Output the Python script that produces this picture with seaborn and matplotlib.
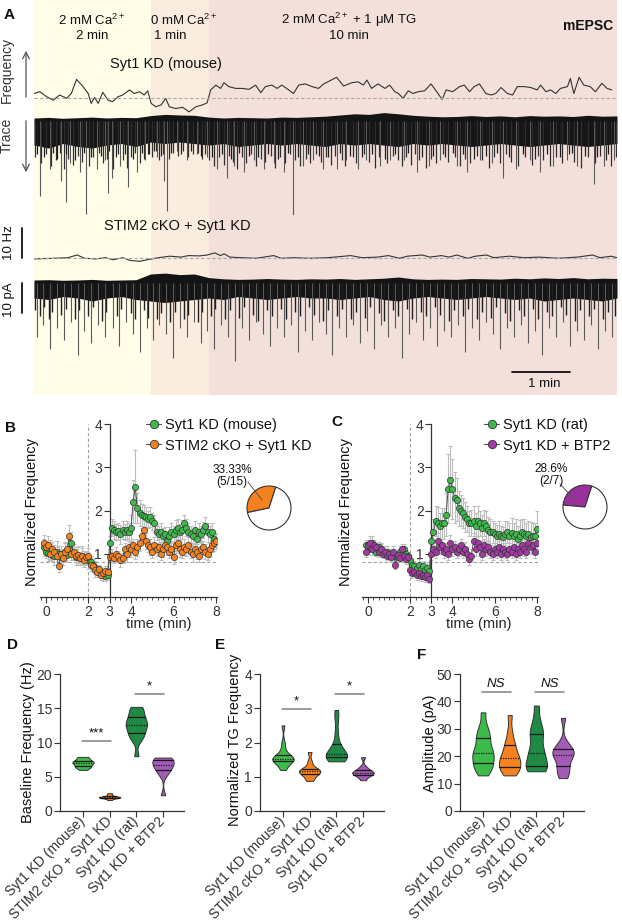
import numpy as np
import pandas as pd
import matplotlib
matplotlib.use("Agg")
import matplotlib.pyplot as plt
import matplotlib.transforms as mtransforms
import seaborn as sns
from matplotlib.lines import Line2D
from matplotlib.ticker import MultipleLocator

# ---------------- data ----------------
# panel A: smoothed event frequency (min, Hz)
freq1_t = [0.0, 0.10, 0.22, 0.33, 0.44, 0.56, 0.64, 0.73, 0.84, 0.93,
           0.98, 1.04, 1.10, 1.18, 1.27, 1.35, 1.44, 1.52, 1.64, 1.72,
           1.81, 1.89, 1.95, 2.01, 2.09, 2.18, 2.26, 2.32, 2.43, 2.55,
           2.66, 2.78, 2.89, 2.97, 3.03, 3.12, 3.20, 3.26, 3.34, 3.46,
           3.57, 3.69, 3.80, 3.89, 3.97, 4.08, 4.17, 4.25, 4.37, 4.45,
           4.54, 4.65, 4.77, 4.88, 4.97,
           5.19, 5.31, 5.45, 5.56, 5.65, 5.71, 5.79, 5.90, 6.02, 6.10,
           6.19, 6.25, 6.33, 6.42, 6.50, 6.59, 6.70, 6.81, 6.93, 7.00,
           7.07, 7.18, 7.30, 7.38, 7.47, 7.55, 7.64, 7.75, 7.84, 7.92,
           8.01, 8.12, 8.21, 8.29, 8.41, 8.52, 8.63, 8.69, 8.78, 8.86,
           8.95, 9.03, 9.15, 9.20, 9.26, 9.35, 9.43, 9.54, 9.63, 9.74,
           9.83, 9.91]
freq1_hz = [8.4, 9.0, 7.3, 6.2, 7.9, 6.8, 8.4, 13.1, 10.7, 8.4,
            5.1, 7.1, 5.1, 8.8, 6.2, 5.7, 7.3, 7.9, 9.6, 8.4,
            9.0, 7.9, 9.3, 5.1, 4.0, 4.6, 6.8, 4.0, 3.4, 3.8,
            2.3, 4.0, 4.6, 5.3, 9.6, 11.2, 10.1, 12.0, 10.7, 10.1,
            10.1, 9.8, 11.2, 8.7, 10.7, 11.2, 10.1, 11.2, 9.6, 8.4,
            11.2, 11.6, 10.7, 10.1, 11.6,
            13.8, 10.9, 12.0, 12.3, 11.2, 12.9, 10.1, 11.6, 10.1, 11.2,
            9.0, 8.4, 6.8, 9.3, 8.4, 9.0, 9.3, 11.6, 8.4, 6.4,
            9.6, 9.0, 10.7, 11.2, 9.0, 10.7, 11.6, 8.4, 7.9, 8.4,
            10.4, 8.4, 7.9, 10.7, 10.7, 10.4, 9.6, 11.2, 9.0, 9.6,
            8.4, 10.1, 10.7, 13.4, 8.4, 13.8, 11.2, 10.7, 9.0, 11.8,
            10.1, 9.6]
freq2_t = [0.0, 0.32, 0.58, 0.74, 0.87, 1.06, 1.23, 1.36, 1.52, 1.65,
           1.81, 1.94, 2.13, 2.33, 2.52, 2.65, 2.84, 2.97, 3.10, 3.20,
           3.26, 3.36, 3.56, 3.81, 4.11, 4.24, 4.46, 4.72, 5.04, 5.43,
           5.63, 5.89, 6.08, 6.27, 6.40, 6.66, 6.79, 6.99, 7.12, 7.25,
           7.44, 7.57, 7.76, 7.89, 8.15, 8.41, 8.67, 8.99, 9.32, 9.58,
           9.71, 9.90, 10.0]
freq2_hz = [1.7, 1.9, 2.1, 3.0, 1.9, 1.7, 2.1, 1.4, 2.1, 1.2,
            0.9, 1.4, 2.1, 2.6, 2.3, 2.8, 2.7, 3.0, 3.7, 2.8,
            3.4, 2.3, 2.1, 1.9, 2.8, 1.9, 2.1, 1.9, 2.1, 2.8,
            2.1, 2.3, 2.8, 1.9, 2.6, 3.0, 2.3, 2.8, 2.3, 3.0,
            1.9, 2.6, 3.0, 2.1, 2.6, 2.1, 2.3, 1.9, 2.3, 3.0,
            2.1, 2.6, 2.1]
freq1_base, freq2_base = 7.0, 2.0

# panel A: raw current band (pA) every 0.25 min, plus individual events (min, pA)
env_t = np.arange(0, 10.01, 0.25)
env1_top = [1.0, 1.2, 0.9, 1.1, 1.3, 1.0, 1.2, 1.1,
            1.8, 2.2, 2.0, 1.9,
            1.3, 1.0, 1.2, 1.1, 1.0, 1.3, 1.2, 1.4,
            1.6, 2.0, 2.4, 2.2, 2.8, 2.4, 1.9, 1.6,
            1.4, 1.5, 1.8, 1.5, 1.7, 1.4, 1.8, 1.6,
            1.7, 1.5, 1.9, 1.6, 1.7]
env1_bot = [-8, -9, -7.5, -8.5, -9, -8, -7.5, -8.5, -7, -7.5,
            -7, -7.5, -8, -7.5, -8.5, -8, -7.5, -8, -7.5, -8,
            -8.5, -7.5, -8, -7.5, -8, -8.5, -7.5, -8, -7.5, -8,
            -8.5, -8, -7.5, -8, -8.5, -8, -7.5, -8, -8.5, -8, -7.5]
env2_top = [1.0, 1.1, 0.9, 1.0, 1.2, 0.9, 1.0, 1.1,
            3.0, 3.3, 2.8, 3.0,
            1.8, 1.4, 1.2, 1.3, 1.5, 1.3, 1.2, 1.4,
            1.3, 1.5, 1.2, 1.4, 1.6, 2.0, 1.4, 1.2,
            1.3, 1.2, 1.5, 1.4, 1.3, 1.6, 1.4, 1.7,
            1.5, 1.8, 1.4, 1.6, 1.5]
env2_bot = [-5, -5.5, -4.5, -5, -6, -5, -4.5, -5.5,
            -6, -6.5, -6, -5.5,
            -5, -5.5, -4.5, -5, -5.5, -5, -4.5, -5,
            -5, -5.5, -5, -4.5, -5.5, -6, -5, -4.5,
            -5, -5.5, -5, -4.5, -5, -5.5, -5, -6,
            -5.5, -5, -5.5, -6, -5]
events1_small = [(0.05, -11), (0.18, -12), (0.33, -10.5), (0.40, -12.5), (0.55, -11), (0.70, -13),
                 (0.85, -10.5), (0.97, -12), (1.15, -11.5), (1.28, -10), (1.40, -12), (1.56, -11),
                 (1.70, -12.5), (1.85, -10.5), (1.98, -11), (2.05, -10), (2.18, -11.5), (2.35, -10.5),
                 (2.52, -11), (2.70, -10), (2.86, -11.5), (3.05, -12), (3.22, -11), (3.38, -12.5),
                 (3.52, -10.5), (3.68, -11.5), (3.85, -12), (4.02, -11), (4.18, -12.5), (4.35, -10.5),
                 (4.52, -12), (4.70, -11), (4.88, -11.5), (5.05, -12), (5.25, -10.5), (5.42, -11.5),
                 (5.62, -12), (5.80, -11), (6.02, -12.5), (6.20, -11), (6.42, -10.5), (6.65, -12),
                 (6.85, -11.5), (7.05, -12), (7.18, -10.5), (7.35, -11), (7.55, -12.5), (7.75, -11.5),
                 (7.95, -10.5), (8.15, -12), (8.38, -11), (8.60, -12.5), (8.80, -11), (9.02, -12),
                 (9.22, -10.5), (9.45, -11.5), (9.65, -12), (9.85, -11)]
events1_mid = [(0.02, -12), (0.12, -14), (0.21, -11), (0.29, -15), (0.37, -13), (0.45, -10.5),
               (0.51, -16), (0.59, -12.5), (0.67, -14.5), (0.76, -11.5), (0.82, -13.5), (0.94, -15),
               (1.02, -12), (1.11, -10.5), (1.19, -14), (1.25, -12.5), (1.36, -16), (1.44, -11),
               (1.52, -13), (1.59, -15.5), (1.66, -12), (1.74, -10.5), (1.81, -14), (1.89, -12.5),
               (1.95, -11), (2.02, -12), (2.09, -10), (2.14, -13), (2.21, -11), (2.31, -12.5),
               (2.39, -10.5), (2.47, -11.5), (2.56, -10), (2.64, -12), (2.73, -11), (2.81, -10.5),
               (2.89, -12.5), (2.93, -11), (3.01, -13), (3.09, -15), (3.17, -12), (3.26, -14.5),
               (3.34, -11.5), (3.41, -13.5), (3.48, -16), (3.56, -12), (3.64, -14), (3.72, -11),
               (3.81, -15), (3.89, -12.5), (3.97, -13.5), (4.06, -11.5), (4.14, -15.5), (4.22, -12),
               (4.31, -14), (4.39, -11), (4.48, -13), (4.57, -15), (4.66, -12.5), (4.74, -14),
               (4.83, -11), (4.92, -13.5), (5.01, -12), (5.09, -14.5), (5.16, -11.5), (5.29, -13),
               (5.33, -15), (5.47, -12), (5.52, -14), (5.66, -11), (5.75, -13.5), (5.85, -15.5),
               (5.91, -12), (6.06, -14), (6.15, -11.5), (6.25, -13), (6.31, -15), (6.38, -12),
               (6.47, -14.5), (6.53, -11), (6.61, -13), (6.72, -15.5), (6.81, -12.5), (6.90, -14),
               (7.01, -11), (7.10, -13.5), (7.22, -12), (7.30, -15), (7.39, -12.5), (7.47, -14),
               (7.60, -11.5), (7.69, -13), (7.80, -15.5), (7.89, -12), (8.00, -14), (8.09, -11),
               (8.19, -13.5), (8.31, -15), (8.43, -12), (8.55, -14.5), (8.64, -11.5), (8.73, -13),
               (8.85, -15), (8.95, -12), (9.06, -14), (9.18, -11), (9.27, -13.5), (9.39, -15.5),
               (9.50, -12), (9.62, -14), (9.70, -11.5), (9.81, -13), (9.90, -15), (9.98, -12)]
events1_big = [(0.10, -25), (0.27, -16), (0.47, -20), (0.55, -27), (0.62, -14), (0.79, -17),
               (0.90, -31), (1.08, -16), (1.22, -13), (1.27, -24), (1.33, -19), (1.48, -15),
               (1.61, -22), (1.77, -17), (1.91, -13), (2.11, -12), (2.23, -20), (2.28, -30),
               (2.45, -10), (2.62, -13), (2.79, -11), (2.96, -12), (3.14, -16), (3.31, -19),
               (3.43, -15), (3.60, -17), (3.77, -13), (3.94, -16), (4.11, -14), (4.28, -17),
               (4.45, -32), (4.62, -15), (4.79, -13), (4.96, -16), (5.19, -16), (5.36, -13),
               (5.56, -16), (5.70, -13), (5.94, -15), (6.11, -13), (6.34, -13), (6.57, -17),
               (6.77, -15), (6.97, -13), (7.25, -15), (7.42, -17), (7.65, -13), (7.85, -14),
               (8.05, -19), (8.27, -16), (8.50, -13), (8.68, -17), (8.91, -15), (9.14, -13),
               (9.31, -15), (9.60, -21), (9.77, -15), (9.94, -13)]
events2_mid = [(0.01, -9), (0.11, -11), (0.17, -8), (0.26, -12), (0.31, -9.5), (0.47, -10.5),
               (0.55, -8.5), (0.70, -12), (0.78, -9), (0.93, -11), (1.01, -8), (1.17, -12.5),
               (1.24, -9.5), (1.42, -11), (1.49, -8.5), (1.66, -10), (1.73, -12), (1.89, -9),
               (1.96, -11.5), (2.11, -12), (2.18, -10), (2.34, -13), (2.41, -9.5), (2.57, -12),
               (2.64, -10.5), (2.81, -13), (2.88, -9.5), (3.04, -11), (3.11, -8.5), (3.27, -12),
               (3.36, -9), (3.52, -11.5), (3.60, -8), (3.76, -10.5), (3.84, -12.5), (4.00, -9),
               (4.08, -11), (4.24, -8.5), (4.32, -12), (4.48, -9.5), (4.56, -11), (4.72, -8),
               (4.80, -10.5), (4.96, -12.5), (5.04, -9), (5.20, -11), (5.28, -8.5), (5.44, -12),
               (5.52, -9.5), (5.68, -11.5), (5.76, -8), (5.92, -10), (6.00, -12.5), (6.16, -9),
               (6.24, -11), (6.40, -8.5), (6.48, -12), (6.64, -9.5), (6.72, -11), (6.88, -8),
               (6.96, -10.5), (7.12, -12.5), (7.20, -9), (7.36, -11), (7.44, -8.5), (7.60, -12),
               (7.68, -9.5), (7.84, -11.5), (7.92, -8), (8.08, -10), (8.16, -12.5), (8.32, -9),
               (8.40, -11), (8.56, -8.5), (8.64, -12), (8.80, -9.5), (8.88, -11), (9.04, -8),
               (9.12, -10.5), (9.28, -12.5), (9.36, -9), (9.52, -11), (9.60, -8.5), (9.76, -12),
               (9.84, -9.5), (9.97, -11)]
events2_big = [(0.05, -18), (0.15, -14), (0.28, -22), (0.40, -15), (0.52, -19), (0.63, -13), (0.75, -24),
               (0.86, -16), (0.97, -20), (1.10, -14), (1.22, -18), (1.35, -15), (1.46, -21), (1.58, -13),
               (1.70, -17), (1.82, -23), (1.93, -15), (2.04, -19), (2.15, -14), (2.27, -17), (2.38, -25),
               (2.50, -15), (2.62, -18), (2.74, -13), (2.86, -20), (2.97, -16), (3.08, -22), (3.20, -14),
               (3.32, -18), (3.45, -26), (3.57, -15), (3.68, -19), (3.80, -13), (3.92, -17), (4.04, -21),
               (4.16, -15), (4.28, -18), (4.40, -14), (4.52, -23), (4.64, -16), (4.76, -19), (4.88, -13),
               (5.00, -17), (5.12, -24), (5.24, -15), (5.36, -18), (5.48, -14), (5.60, -20), (5.72, -16),
               (5.84, -22), (5.96, -14), (6.08, -18), (6.20, -15), (6.32, -25), (6.44, -17), (6.56, -13),
               (6.68, -19), (6.80, -15), (6.92, -21), (7.04, -16), (7.16, -18), (7.28, -14), (7.40, -23),
               (7.52, -15), (7.64, -19), (7.76, -13), (7.88, -17), (8.00, -22), (8.12, -15), (8.24, -18),
               (8.36, -14), (8.48, -20), (8.60, -16), (8.72, -24), (8.84, -15), (8.96, -18), (9.08, -13),
               (9.20, -21), (9.32, -16), (9.44, -19), (9.56, -14), (9.68, -22), (9.80, -16), (9.92, -18)]
phases = [(0, 2), (2, 3), (3, 10)]
phase_colors = ["#fffce8", "#fbece0", "#f3e0db"]

# panels B and C: normalized frequency, one point every 0.1 min
t_bc = np.round(np.arange(-0.1, 8.05, 0.1), 2)
mouse_kd = [1.15, 1.05, 1.02, 1.10, 0.98, 0.95, 1.05, 1.00, 0.92, 0.95,
            1.05, 0.98, 1.12, 1.25, 1.00, 0.92, 0.95, 0.90, 0.95, 0.88,
            0.90, 0.85, 0.80, 0.75, 0.68, 0.62, 0.60, 0.55, 0.50, 0.48,
            0.52,
            1.25, 1.60, 1.55, 1.50, 1.52, 1.45, 1.55, 1.50, 1.55, 1.50,
            1.60, 2.20, 2.55, 2.05, 1.95, 1.90, 1.88, 1.85, 1.80, 1.85,
            1.75, 1.70, 1.50, 1.45, 1.50, 1.40, 1.45, 1.30, 1.40, 1.50,
            1.45, 1.55, 1.60, 1.50, 1.55, 1.70, 1.60, 1.50, 1.45, 1.40,
            1.55, 1.35, 1.50, 1.45, 1.55, 1.65, 1.50, 1.45, 1.50, 1.35,
            1.30]
mouse_kd_sem = [0.20, 0.15, 0.18, 0.22, 0.15, 0.20, 0.25, 0.18, 0.20, 0.15,
                0.22, 0.18, 0.20, 0.25, 0.15, 0.18, 0.20, 0.15, 0.22, 0.18,
                0.15, 0.20, 0.15, 0.12, 0.15, 0.10, 0.12, 0.10, 0.12, 0.10,
                0.12,
                0.15, 0.20, 0.20, 0.18, 0.20, 0.22, 0.20, 0.18, 0.20, 0.20,
                0.30, 0.50, 0.85, 0.35, 0.30, 0.25, 0.25, 0.22, 0.20, 0.22,
                0.20, 0.20, 0.18, 0.20, 0.22, 0.20, 0.18, 0.20, 0.22, 0.20,
                0.20, 0.22, 0.20, 0.18, 0.22, 0.20, 0.20, 0.22, 0.20, 0.18,
                0.20, 0.22, 0.20, 0.20, 0.18, 0.20, 0.22, 0.20, 0.20, 0.18,
                0.18]
stim2_kd = [1.25, 1.15, 1.20, 1.00, 1.10, 1.05, 0.95, 0.72, 1.00, 0.90,
            1.05, 1.10, 1.42, 1.00, 1.05, 0.95, 0.98, 0.90, 0.95, 0.85,
            0.92, 0.95, 0.75, 0.72, 0.62, 0.58, 0.65, 0.52, 0.55, 0.60,
            0.58,
            0.92, 0.95, 0.90, 1.00, 0.95, 0.85, 0.90, 1.10, 1.00, 1.15,
            1.10, 1.20, 1.05, 1.15, 1.25, 1.40, 1.55, 1.30, 1.20, 1.15,
            1.05, 1.20, 1.10, 1.15, 1.00, 1.10, 1.20, 1.15, 1.05, 1.10,
            0.92, 1.20, 1.25, 1.10, 1.05, 1.15, 1.10, 1.20, 1.05, 1.00,
            1.10, 1.05, 0.95, 1.10, 1.15, 1.05, 1.00, 1.10, 1.20, 1.25,
            1.30]
stim2_kd_sem = [0.18, 0.15, 0.20, 0.15, 0.18, 0.15, 0.20, 0.15, 0.18, 0.15,
                0.20, 0.15, 0.25, 0.15, 0.18, 0.15, 0.20, 0.15, 0.18, 0.15,
                0.15, 0.18, 0.15, 0.12, 0.15, 0.12, 0.10, 0.12, 0.10, 0.12,
                0.10,
                0.12, 0.15, 0.12, 0.15, 0.12, 0.15, 0.12, 0.15, 0.18, 0.15,
                0.18, 0.15, 0.18, 0.20, 0.18, 0.20, 0.22, 0.18, 0.15, 0.18,
                0.15, 0.18, 0.15, 0.18, 0.15, 0.18, 0.15, 0.18, 0.15, 0.18,
                0.15, 0.18, 0.15, 0.18, 0.15, 0.18, 0.15, 0.18, 0.15, 0.18,
                0.15, 0.18, 0.15, 0.18, 0.15, 0.18, 0.15, 0.18, 0.15, 0.18,
                0.15]
rat_kd = [1.20, 1.10, 1.15, 1.25, 1.10, 1.05, 1.15, 1.10, 1.05, 1.00,
          1.05, 1.00, 0.95, 1.00, 0.95, 0.92, 1.05, 0.98, 1.10, 1.00,
          0.95, 0.85, 0.75, 0.72, 0.68, 0.75, 0.65, 0.72, 0.62, 0.68,
          0.60,
          1.30, 1.50, 1.75, 1.72, 1.65, 1.70, 1.70, 1.90, 2.50, 2.70,
          2.50, 2.30, 2.25, 2.05, 2.00, 1.95, 1.85, 1.80, 1.70, 1.72,
          1.75, 1.65, 1.75, 1.70, 1.60, 1.72, 1.65, 1.55, 1.50, 1.50,
          1.45, 1.42, 1.45, 1.40, 1.38, 1.45, 1.50, 1.42, 1.48, 1.40,
          1.45, 1.35, 1.42, 1.50, 1.45, 1.40, 1.45, 1.38, 1.42, 1.40,
          1.58]
rat_kd_sem = [0.12, 0.10, 0.12, 0.15, 0.12, 0.10, 0.12, 0.15, 0.12, 0.10,
              0.12, 0.10, 0.12, 0.10, 0.12, 0.10, 0.12, 0.10, 0.12, 0.10,
              0.10, 0.12, 0.10, 0.12, 0.10, 0.12, 0.10, 0.12, 0.10, 0.12,
              0.10,
              0.20, 0.30, 0.35, 0.35, 0.30, 0.35, 0.35, 0.50, 0.80, 0.80,
              0.70, 0.60, 0.50, 0.40, 0.35, 0.35, 0.35, 0.30, 0.30, 0.30,
              0.35, 0.30, 0.35, 0.30, 0.30, 0.30, 0.35, 0.30, 0.30, 0.25,
              0.25, 0.25, 0.30, 0.25, 0.25, 0.30, 0.25, 0.30, 0.35, 0.30,
              0.35, 0.30, 0.35, 0.30, 0.35, 0.30, 0.30, 0.35, 0.30, 0.30,
              0.40]
btp2_kd = [1.05, 1.20, 1.25, 1.10, 1.20, 1.15, 1.05, 1.10, 1.00, 1.05,
           0.95, 1.00, 0.92, 1.05, 0.75, 0.98, 0.90, 1.10, 0.95, 0.88,
           0.92, 0.62, 0.55, 0.58, 0.50, 0.55, 0.48, 0.52, 0.47, 0.50,
           0.42,
           1.00, 1.10, 1.05, 1.30, 1.15, 1.20, 1.05, 1.10, 1.00, 1.25,
           1.10, 1.15, 1.05, 1.10, 1.20, 1.05, 1.12, 1.00, 0.88, 0.95,
           1.30, 1.10, 1.25, 1.15, 1.00, 1.20, 1.10, 1.15, 1.05, 1.00,
           1.10, 1.05, 1.15, 1.00, 1.10, 1.05, 1.00, 1.10, 1.05, 1.15,
           1.00, 1.10, 1.05, 1.20, 1.10, 1.05, 1.25, 1.15, 1.20, 1.05,
           1.25]
btp2_kd_sem = [0.12, 0.12, 0.15, 0.12, 0.12, 0.10, 0.12, 0.12, 0.10, 0.12,
               0.10, 0.12, 0.10, 0.12, 0.10, 0.12, 0.10, 0.12, 0.10, 0.12,
               0.10, 0.10, 0.12, 0.10, 0.10, 0.12, 0.10, 0.10, 0.12, 0.10,
               0.10,
               0.15, 0.15, 0.15, 0.18, 0.15, 0.15, 0.15, 0.15, 0.15, 0.18,
               0.15, 0.15, 0.15, 0.15, 0.15, 0.15, 0.15, 0.15, 0.15, 0.15,
               0.18, 0.15, 0.15, 0.15, 0.15, 0.15, 0.15, 0.15, 0.15, 0.15,
               0.15, 0.15, 0.15, 0.15, 0.15, 0.15, 0.15, 0.15, 0.15, 0.15,
               0.15, 0.15, 0.15, 0.15, 0.15, 0.15, 0.15, 0.15, 0.15, 0.15,
               0.15]
pie_B = [5, 10]   # responders 5/15
pie_C = [2, 5]    # responders 2/7
norm_line = 0.82

# panels D-F: per-cell values
groups = ["Syt1 KD (mouse)", "STIM2 cKO + Syt1 KD", "Syt1 KD (rat)", "Syt1 KD + BTP2"]
baseline_hz = [
    [6.0, 6.2, 6.4, 6.5, 6.6, 6.8, 6.9, 7.0, 7.1, 7.2, 7.3, 7.4, 7.6, 7.8, 7.9],
    [1.6, 1.8, 1.9, 1.95, 2.0, 2.0, 2.05, 2.1, 2.2, 2.4, 2.6],
    [8.0, 10.2, 10.8, 11.2, 11.5, 12.0, 12.4, 12.6, 12.8, 13.2, 13.6, 13.9, 14.5, 15.0, 15.2],
    [2.3, 5.2, 5.8, 6.1, 6.5, 6.7, 6.9, 7.3, 7.5, 7.7, 7.8],
]
tg_norm = [
    [1.2, 1.3, 1.4, 1.45, 1.48, 1.5, 1.52, 1.53, 1.55, 1.6, 1.65, 1.8, 2.0, 2.5],
    [0.88, 0.95, 1.05, 1.08, 1.12, 1.15, 1.17, 1.2, 1.22, 1.3, 1.45, 1.72],
    [1.45, 1.5, 1.52, 1.55, 1.6, 1.62, 1.65, 1.7, 1.78, 1.85, 2.0, 2.3, 2.7, 2.95],
    [0.9, 1.0, 1.05, 1.08, 1.1, 1.12, 1.14, 1.18, 1.22, 1.3, 1.57],
]
amplitude_pa = [
    [13, 15, 16, 17, 18, 19.5, 21, 21, 22, 24, 26, 27, 29, 31, 36],
    [13, 14.5, 15.5, 16, 17, 18.5, 19.3, 20, 21.5, 24, 25, 29, 35],
    [14.5, 15, 16, 16.5, 18, 21, 21, 23, 27, 28, 30, 33, 38.5],
    [12, 14, 15, 17, 19, 20.5, 20.5, 21.5, 22.5, 23, 25, 34],
]
sig_D = [(0, 1, "***", 10.2), (2, 3, "*", 17.1)]
sig_E = [(0, 1, "*", 2.97), (2, 3, "*", 3.42)]
sig_F = [(0, 1, "NS", 43.6), (2, 3, "NS", 43.6)]

green = "#3cbb4a"
orange = "#f5821f"
dkgreen = "#1e8a43"
purple = "#a45bb8"
pie_purple = "#9b2f9b"
violin_colors = [green, orange, dkgreen, purple]

# ---------------- figure ----------------
sns.set_theme(style="ticks")
plt.rcParams["font.family"] = ["Liberation Sans", "DejaVu Sans"]
plt.rcParams["mathtext.fontset"] = "custom"
plt.rcParams["mathtext.rm"] = "Liberation Sans"
plt.rcParams["mathtext.it"] = "Liberation Sans:italic"
plt.rcParams["axes.edgecolor"] = "#333333"
plt.rcParams["xtick.color"] = "#333333"
plt.rcParams["ytick.color"] = "#333333"
plt.rcParams["text.color"] = "#111111"

W, H = 622, 923
fig = plt.figure(figsize=(W / 100, H / 100), dpi=100)


def px_axes(x0, y0, x1, y1):
    ax = fig.add_axes([x0 / W, 1 - y1 / H, (x1 - x0) / W, (y1 - y0) / H])
    ax.patch.set_alpha(0)
    return ax


def draw_events(ax, events, color, lw):
    t, d = zip(*events)
    ax.vlines(t, 0, d, color=color, lw=lw)


# ---- A ----
bg = px_axes(34, 0, 617, 395)
for (a, b), c in zip(phases, phase_colors):
    bg.axvspan(a, b, color=c, lw=0)
bg.set_xlim(0, 10)
bg.axis("off")

f1 = px_axes(34, 60, 617, 120)
sns.lineplot(x=freq1_t, y=freq1_hz, ax=f1, color="#333333", lw=0.8)
f1.axhline(freq1_base, color="#a8a8a8", ls=(0, (3, 2)), lw=0.8)
f1.set_xlim(0, 10)
f1.set_ylim(-0.43, 19.57)
f1.axis("off")

f2 = px_axes(34, 240, 617, 270)
sns.lineplot(x=freq2_t, y=freq2_hz, ax=f2, color="#333333", lw=0.8)
f2.axhline(freq2_base, color="#a8a8a8", ls=(0, (3, 2)), lw=0.8)
f2.plot([-0.2, -0.2], [freq2_base, freq2_base + 10], color="#111111", lw=1.3, clip_on=False)
f2.set_xlim(0, 10)
f2.set_ylim(-2, 8)
f2.axis("off")

tr1 = px_axes(34, 105, 617, 215)
draw_events(tr1, events1_big, "#5a5a5a", 0.8)
draw_events(tr1, events1_mid, "#2e2e2e", 0.9)
draw_events(tr1, events1_small, "#1c1c1c", 0.9)
tr1.fill_between(env_t, env1_top, env1_bot, color="#141414", lw=0)
tr1.set_xlim(0, 10)
tr1.set_ylim(-31.3, 5.33)
tr1.axis("off")

tr2 = px_axes(34, 265, 617, 370)
draw_events(tr2, events2_big, "#5a5a5a", 0.8)
draw_events(tr2, events2_mid, "#1e1e1e", 1.0)
tr2.fill_between(env_t, env2_top, env2_bot, color="#141414", lw=0)
tr2.plot([-0.2, -0.2], [0, -10], color="#111111", lw=1.3, clip_on=False)
tr2.plot([8.2, 9.2], [-29.7, -29.7], color="#111111", lw=1.3, clip_on=False)
tr2.set_xlim(0, 10)
tr2.set_ylim(-29, 6)
tr2.axis("off")


# ---- B, C ----
def time_course(x0, x1, s1, e1, c1, s2, e2, c2, pie, pie_color, pie_center, names, legend_xy):
    ax = px_axes(x0, 424, x1, 597)
    for s, e in [(s1, e1), (s2, e2)]:
        ax.errorbar(t_bc, s, yerr=e, fmt="none", ecolor="#bdbdbd", elinewidth=0.8,
                    capsize=1.5, capthick=0.8, zorder=1)
    ax.axvline(2, color="#a0a0a0", ls=(0, (3, 2)), lw=0.8, zorder=0)
    ax.axhline(norm_line, color="#a0a0a0", ls=(0, (3, 2)), lw=0.8, zorder=0)
    for s, c in [(s1, c1), (s2, c2)]:
        sns.lineplot(x=t_bc, y=s, ax=ax, color="#505050", lw=0.7, zorder=2)
        sns.scatterplot(x=t_bc, y=s, ax=ax, color=c, edgecolor="#333333", linewidth=0.5,
                        s=20, zorder=3)
    ax.spines["left"].set_position(("data", 3))
    ax.spines[["top", "right"]].set_visible(False)
    ax.spines[["left", "bottom"]].set_linewidth(0.9)
    ax.set_xlim(-0.3, 8.05)
    ax.set_ylim(0, 4)
    ax.set_xticks([0, 2, 3, 4, 6, 8])
    ax.xaxis.set_minor_locator(MultipleLocator(0.25))
    ax.set_yticks([1, 2, 3, 4])
    ax.tick_params(labelsize=10, length=4, width=0.8, pad=1.5)
    ax.tick_params(which="minor", length=2, width=0.6)
    ax.set_xlabel("time (min)", fontsize=10.5)
    ax.xaxis.label.set_va("center")
    ax.set_ylabel("")
    handles = [Line2D([], [], color="#505050", lw=0.8, marker="o", markersize=6,
                      markerfacecolor=c, markeredgecolor="#333333", markeredgewidth=0.6)
               for c in (c1, c2)]
    ax.legend(handles, names, loc="upper left", frameon=False, fontsize=10.5,
              bbox_to_anchor=(legend_xy[0] / W, 1 - legend_xy[1] / H),
              bbox_transform=fig.transFigure, handlelength=1.05, handletextpad=0.25,
              labelspacing=0.45, borderpad=0, borderaxespad=0)
    cx, cy = pie_center
    pax = px_axes(cx - 27.5, cy - 27.5, cx + 27.5, cy + 27.5)
    pax.pie(pie, colors=[pie_color, "white"], startangle=72,
            wedgeprops=dict(edgecolor="#333333", linewidth=0.8))
    pax.set_aspect("equal")
    return ax


axB = time_course(39.6, 217.1, mouse_kd, mouse_kd_sem, green, stim2_kd, stim2_kd_sem, orange,
                  pie_B, orange, (269, 508), ["Syt1 KD (mouse)", "STIM2 cKO + Syt1 KD"], (146, 418))
axB.xaxis.set_label_coords(0.673, -0.155)
axC = time_course(361.7, 537.9, rat_kd, rat_kd_sem, green, btp2_kd, btp2_kd_sem, "#a33aa3",
                  pie_C, pie_purple, (585, 507), ["Syt1 KD (rat)", "Syt1 KD + BTP2"], (484, 418))
axC.xaxis.set_label_coords(0.666, -0.155)


# ---- D, E, F ----
def violin_panel(x_first, values, ylim, yticks, sig, sig_style):
    step = 26.67
    ax = px_axes(x_first - 0.85 * step, 674, x_first + 3.8 * step, 811)
    df = pd.DataFrame({"group": np.repeat(groups, [len(v) for v in values]),
                       "value": np.concatenate(values)})
    sns.violinplot(data=df, x="group", y="value", hue="group", order=groups, hue_order=groups,
                   palette=violin_colors, saturation=1, inner="quart", cut=0,
                   density_norm="width", width=0.8, linewidth=0.7, linecolor="#333333",
                   bw_adjust=0.6, legend=False, ax=ax,
                   inner_kws=dict(color="#1a1a1a", linewidth=0.9))
    for i, ln in enumerate(ax.lines):
        ln.set_linestyle((0, (1, 1)) if i % 3 == 1 else "-")
    for a, b, label, y in sig:
        ax.plot([a - 0.05, b + 0.05], [y, y], color="#808080", lw=1.1)
        ax.text((a + b) / 2, y + (ylim[1] - ylim[0]) * 0.012, label, ha="center", va="bottom",
                fontsize=9.5, style=sig_style)
    ax.set_xlim(-0.85, 3.8)
    ax.set_ylim(*ylim)
    ax.set_yticks(yticks)
    ax.set_xticks(range(4))
    ax.set_xticklabels(groups, rotation=45, ha="right", va="center", rotation_mode="anchor",
                       fontsize=10)
    shift = mtransforms.ScaledTranslation(5 / 100, -2 / 100, fig.dpi_scale_trans)
    for lab in ax.get_xticklabels():
        lab.set_transform(lab.get_transform() + shift)
    ax.set_xlabel("")
    ax.set_ylabel("")
    ax.tick_params(labelsize=10, length=4, width=0.8, pad=2)
    sns.despine(ax=ax)
    ax.spines[["left", "bottom"]].set_linewidth(0.9)
    return ax


violin_panel(83, baseline_hz, (0, 20), [0, 5, 10, 15, 20], sig_D, "normal")
violin_panel(283, tg_norm, (0, 4), [0, 1, 2, 3, 4], sig_E, "normal")
violin_panel(483, amplitude_pa, (0, 50), [0, 10, 20, 30, 40, 50], sig_F, "italic")

# ---- text layer ----
ov = px_axes(0, 0, W, H)
ov.set_xlim(0, W)
ov.set_ylim(H, 0)
ov.axis("off")
for letter, x, y in [("A", 9, 15), ("B", 10, 428), ("C", 337, 422), ("D", 13, 645),
                     ("E", 220, 645), ("F", 422, 655)]:
    ov.text(x, y, letter, fontsize=11, fontweight="bold", ha="center", va="center")
ov.text(92, 20, "2 mM Ca$^{2+}$", fontsize=9.5, ha="center", va="center")
ov.text(92, 36, "2 min", fontsize=9.5, ha="center", va="center")
ov.text(184, 20, "0 mM Ca$^{2+}$", fontsize=9.5, ha="center", va="center")
ov.text(170, 36, "1 min", fontsize=9.5, ha="center", va="center")
ov.text(349, 20, "2 mM Ca$^{2+}$ + 1 \u03bcM TG", fontsize=9.5, ha="center", va="center")
ov.text(349, 36, "10 min", fontsize=9.5, ha="center", va="center")
ov.text(588, 26, "mEPSC", fontsize=10, fontweight="bold", ha="center", va="center")
ov.text(7, 70, "Frequency", fontsize=10, rotation=90, ha="center", va="center", color="#333333")
ov.annotate("", xy=(26, 48), xytext=(26, 100),
            arrowprops=dict(arrowstyle="->", color="#555555", lw=0.9))
ov.text(7, 135, "Trace", fontsize=10, rotation=90, ha="center", va="center", color="#333333")
ov.annotate("", xy=(26, 175), xytext=(26, 118),
            arrowprops=dict(arrowstyle="->", color="#555555", lw=0.9))
ov.text(110, 64, "Syt1 KD (mouse)", fontsize=10.5, ha="left", va="center")
ov.text(104, 226, "STIM2 cKO + Syt1 KD", fontsize=10.5, ha="left", va="center")
ov.text(9, 243, "10 Hz", fontsize=9.5, rotation=90, ha="center", va="center")
ov.text(9, 300, "10 pA", fontsize=9.5, rotation=90, ha="center", va="center")
ov.text(544, 384, "1 min", fontsize=9.5, ha="center", va="center")
ov.text(232, 476, "33.33%\n(5/15)", fontsize=8.5, ha="center", va="center", linespacing=1.1)
ov.plot([248, 262], [482, 500], color="#555555", lw=0.7)
ov.text(551, 475, "28.6%\n(2/7)", fontsize=8.5, ha="center", va="center", linespacing=1.1)
ov.plot([560, 575], [484, 500], color="#555555", lw=0.7)
ov.text(32, 512, "Normalized Frequency", fontsize=10.5, rotation=90, ha="center", va="center")
ov.text(346, 512, "Normalized Frequency", fontsize=10.5, rotation=90, ha="center", va="center")
ov.text(28, 742, "Baseline Frequency (Hz)", fontsize=10.5, rotation=90, ha="center", va="center")
ov.text(235, 740, "Normalized TG Frequency", fontsize=10.5, rotation=90, ha="center", va="center")
ov.text(430, 743, "Amplitude (pA)", fontsize=10.5, rotation=90, ha="center", va="center")

fig.savefig("out.png", dpi=100)
